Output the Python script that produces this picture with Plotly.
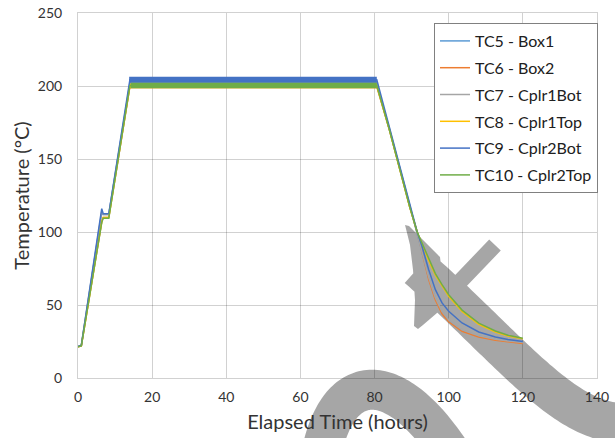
import numpy as np
import plotly.graph_objects as go

# ---------------- data ----------------
time_h = [0, 0.9, 6.4, 6.8, 8.3, 14.0, 80.6, 84.0, 87.0, 89.5, 91.5, 92.8, 94.6,
          96.4, 98.2, 100.0, 103.6, 108.1, 112.6, 116.0, 120.0]

tc5 = [21.5, 22.3, 113, 112, 112, 202, 202, 171, 142, 118, 100, 86.5, 68.5,
       54.5, 45, 39.3, 32.7, 28.7, 26.3, 25.2, 24.2]
tc6 = [21.3, 22.0, 107, 110, 110, 199.5, 199.5, 170, 141, 117, 100, 85.5, 67.4,
       53.5, 44, 38.5, 32.0, 28.1, 25.8, 24.8, 23.6]
tc7 = [21.5, 22.3, 114, 112, 112, 201, 201, 171, 142, 118, 100, 86.8, 69,
       55, 45.5, 39.8, 33, 28.9, 26.5, 25.4, 24.4]
tc8 = [21.4, 22.0, 107, 110, 110, 200, 200, 170, 141, 117, 100, 91.5, 80.5,
       70.5, 63, 56, 45.6, 36.8, 31.5, 28.7, 26.8]
tc9 = [21.6, 22.5, 116, 112.5, 112.5, 204.3, 204.3, 172, 142, 118, 100, 90.2, 74.2,
       60.5, 51.4, 45.7, 37.7, 31.5, 28.1, 26.3, 25.0]
tc10 = [21.4, 22.0, 106.5, 109.5, 109.5, 200.3, 200.3, 170, 141, 117, 100, 92.5, 81.5,
        71.5, 63.9, 57, 46.5, 37.6, 32.2, 29.3, 27.3]

series_names = ["TC5 - Box1", "TC6 - Box2", "TC7 - Cplr1Bot",
                "TC8 - Cplr1Top", "TC9 - Cplr2Bot", "TC10 - Cplr2Top"]
series_values = [tc5, tc6, tc7, tc8, tc9, tc10]

# dwell-period fluctuation envelope (noise band) per series
dwell_start = [14.0, 14.0, 14.0, 14.0, 13.8, 14.2]
dwell_end = [80.6, 80.6, 80.6, 80.6, 80.6, 80.6]
band_lo = [200.5, 198.5, 199.5, 198.5, 202.3, 198.4]
band_hi = [203.5, 200.5, 202.5, 201.5, 206.4, 202.3]

x_ticks = [0, 20, 40, 60, 80, 100, 120, 140]
y_ticks = [0, 50, 100, 150, 200, 250]

colors = ["#5B9BD5", "#ED7D31", "#A5A5A5", "#FFC000", "#4472C4", "#70AD47"]

# ---------------- figure ----------------
W, H = 615, 438
ML, MR, MT, MB = 78, 18, 13, 60
PW, PH = W - ML - MR, H - MT - MB

fig = go.Figure()
for i, (name, vals) in enumerate(zip(series_names, series_values)):
    s, e, lo, hi = dwell_start[i], dwell_end[i], band_lo[i], band_hi[i]
    fig.add_trace(go.Scatter(
        x=[s, e, e, s], y=[lo, lo, hi, hi], mode="lines", fill="toself",
        fillcolor=colors[i], line=dict(width=0, color=colors[i]),
        showlegend=False, hoverinfo="skip", legendgroup=name))
    fig.add_trace(go.Scatter(
        x=time_h, y=vals, mode="lines", name=name, legendgroup=name,
        line=dict(color=colors[i], width=1.5)))

# ---------------- decorative grey curved arrow (overlay) ----------------
def bezier(p0, p1, p2, p3, n=80):
    t = np.linspace(0, 1, n)[:, None]
    p0, p1, p2, p3 = map(np.array, (p0, p1, p2, p3))
    return ((1 - t) ** 3) * p0 + 3 * ((1 - t) ** 2) * t * p1 + 3 * (1 - t) * t ** 2 * p2 + t ** 3 * p3

def strip(c, w):
    c = np.asarray(c, float)
    d = np.gradient(c, axis=0)
    d /= np.linalg.norm(d, axis=1)[:, None]
    nrm = np.stack([-d[:, 1], d[:, 0]], axis=1)
    left = c + nrm * w / 2
    right = c - nrm * w / 2
    return np.vstack([left, right[::-1]])

def to_paper(pts):
    pts = np.asarray(pts, float)
    return np.stack([(pts[:, 0] - ML) / PW, (H - MB - pts[:, 1]) / PH], axis=1)

def area(p):
    x, y = p[:, 0], p[:, 1]
    return 0.5 * np.sum(x * np.roll(y, -1) - np.roll(x, -1) * y)

polys = []
polys.append(strip(bezier((321, 455), (338, 370), (394, 366), (452, 455)), 40))
polys.append(strip(bezier((418, 268), (520, 358), (575, 440), (645, 420)), 40))
polys.append(strip(np.array([(450, 292), (495, 245)]), 16))
polys.append(np.array([(405, 225), (409, 226), (440, 257), (445, 300), (437, 313),
                       (423, 325), (418, 329), (414, 326), (415, 300), (413, 270),
                       (410, 245)], float))

path = ""
for p in polys:
    pp = to_paper(p)
    if area(pp) < 0:
        pp = pp[::-1]
    path += "M" + " L".join(f"{x:.4f},{y:.4f}" for x, y in pp) + " Z "

fig.add_shape(type="path", xref="paper", yref="paper", path=path.strip(),
              fillcolor="rgba(0,0,0,0.35)", line=dict(width=0), layer="below",
              fillrule="nonzero")

font_family = "Lato, 'Open Sans', sans-serif"
grid_col = "rgba(0,0,0,0.18)"

fig.update_layout(
    width=W, height=H,
    margin=dict(l=ML, r=MR, t=MT, b=MB, autoexpand=False),
    paper_bgcolor="white", plot_bgcolor="rgba(0,0,0,0)",
    font=dict(family=font_family, color="#404040"),
    showlegend=True,
    legend=dict(
        x=(434 - ML) / PW, y=(H - MB - 23) / PH, xanchor="left", yanchor="top",
        bgcolor="white", bordercolor="#808080", borderwidth=1,
        font=dict(size=16, color="#202020", family=font_family),
        traceorder="grouped", tracegroupgap=3, itemwidth=30,
    ),
    xaxis=dict(
        range=[0, 140], tickvals=x_ticks, ticks="", showgrid=True, gridcolor=grid_col,
        zeroline=False, showline=True, mirror=True, linecolor=grid_col, automargin=False,
        tickfont=dict(size=14, color="#333333"), ticklabelstandoff=6,
        title=dict(text="Elapsed Time (hours)", font=dict(size=20, color="#333333"),
                   standoff=11),
    ),
    yaxis=dict(
        range=[0, 250], tickvals=y_ticks, ticks="", showgrid=True, gridcolor=grid_col,
        zeroline=False, showline=True, mirror=True, linecolor=grid_col, automargin=False,
        tickfont=dict(size=14, color="#333333"), ticklabelstandoff=12,
        title=dict(text="Temperature (°C)", font=dict(size=20, color="#333333"),
                   standoff=2),
    ),
)

fig.write_html("out.html", config={"displayModeBar": False},
               post_script="document.body.style.margin='0';")
